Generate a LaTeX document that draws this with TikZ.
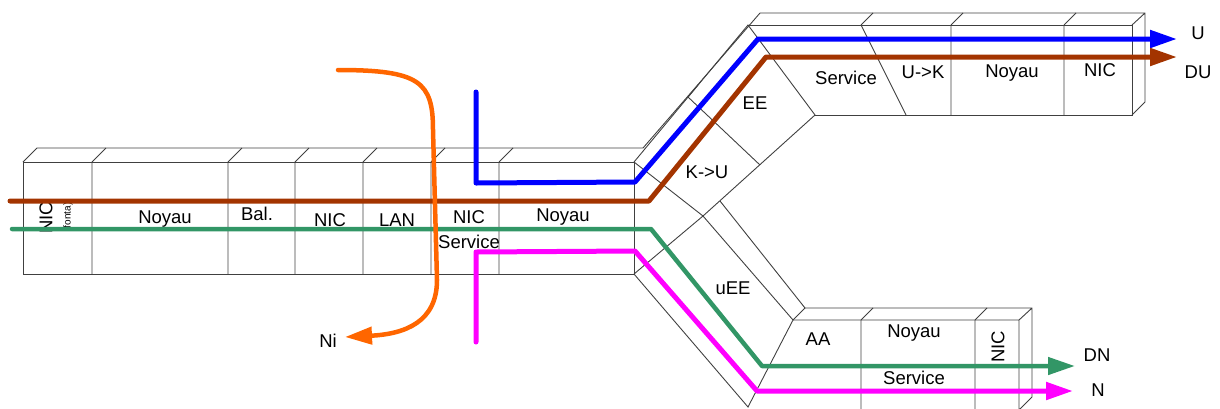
\documentclass[tikz,border=0pt]{standalone}
\usepackage{fontspec}
\setmainfont{Liberation Sans}
\usetikzlibrary{arrows.meta}
\definecolor{duColor}{RGB}{163,52,0}
\definecolor{dnColor}{RGB}{50,150,102}
\definecolor{niColor}{RGB}{255,102,0}
\definecolor{nColor}{RGB}{255,0,255}

\begin{document}
\begin{tikzpicture}[x=1pt,y=-1pt,%
  box/.style={draw=black!75,line width=0.9pt},%
  lbl/.style={font=\fontsize{18.5}{20}\selectfont,inner sep=0pt},%
  small/.style={font=\fontsize{10}{11}\selectfont,inner sep=0pt},%
  flow/.style={line width=5pt,line cap=round,line join=round,-{Triangle[length=27pt,width=17pt]}},%
]%
\useasboundingbox (0,0) rectangle (1220,408);%
% left block
\draw[box] (23,162) rectangle (634,274);%
\draw[box] (23,162) -- (37,148) -- (643,148);%
\foreach \x in {92,228,295,363,431,499} {%
  \draw[box] (\x,162) -- (\x,274) (\x,162) -- ++(14,-14);%
}%
% junction and upper arm
\draw[box] (634,162) -- (703,216) -- (634,274);%
\draw[box] (634,162) -- (748,25) -- (815,115) -- (703,216);%
\draw[box] (643,148) -- (760,13);%
\draw[box] (688,97) -- (760,165) (688,97) -- (698,85);%
% upper block
\draw[box] (748,25) -- (1132,25) -- (1132,115) -- (815,115);%
\draw[box] (760,13) -- (1145,13) -- (1145,102) -- (1132,115) (1132,25) -- (1145,13);%
\draw[box] (861,25) -- (906,115) (861,25) -- ++(12,-12);%
\foreach \x in {951,1064} {%
  \draw[box] (\x,25) -- (\x,115) (\x,25) -- ++(12,-12);%
}%
% lower arm
\draw[box] (634,274) -- (748,407) -- (793,320) -- (703,216);%
\draw[box] (720,201) -- (805,308) -- (793,320);%
% lower block
\draw[box] (793,320) -- (1019,320) -- (1019,412) (805,308) -- (1032,308) -- (1032,397) -- (1019,410) (1019,320) -- (1032,308);%
\foreach \x in {861,975} {%
  \draw[box] (\x,320) -- (\x,412) (\x,320) -- ++(12,-12);%
}%
% labels
\node[lbl,rotate=90] (nicA) at (46,218) {NIC};%
\node[small,rotate=90] (fonta) at (68,217) {(fonta)};%
\node[lbl] (noyauA) at (165,219) {Noyau};%
\node[lbl] (bal) at (257,214) {Bal.};%
\node[lbl] (nicB) at (330,220) {NIC};%
\node[lbl] (lan) at (397,220) {LAN};%
\node[lbl] (nicC) at (469,217) {NIC};%
\node[lbl] (servA) at (469,242) {Service};%
\node[lbl] (noyauB) at (563,217) {Noyau};%
\node[lbl] (ku) at (707,172) {K->U};%
\node[lbl] (ee) at (755,103) {EE};%
\node[lbl] (servB) at (846,78) {Service};%
\node[lbl] (uk) at (923,72) {U->K};%
\node[lbl] (noyauC) at (1012,73) {Noyau};%
\node[lbl] (nicD) at (1100,70) {NIC};%
\node[lbl] (uee) at (733,288) {uEE};%
\node[lbl] (aa) at (818,339) {AA};%
\node[lbl] (noyauD) at (914,333) {Noyau};%
\node[lbl] (servC) at (914,378) {Service};%
\node[lbl,rotate=90] (nicE) at (998,347) {NIC};%
\node[lbl] (U) at (1198,33) {U};%
\node[lbl] (DU) at (1198,72) {DU};%
\node[lbl] (DN) at (1097,355) {DN};%
\node[lbl] (N) at (1098,390) {N};%
\node[lbl] (Ni) at (328,341) {Ni};%
% flows
\coordinate (uStart) at (476,92);%
\coordinate (uEnd) at (1177,39);%
\coordinate (duStart) at (10,201);%
\coordinate (duEnd) at (1177,57);%
\coordinate (dnStart) at (12,229);%
\coordinate (dnEnd) at (1075,366);%
\coordinate (nStart) at (476,342);%
\coordinate (nEnd) at (1073,391);%
\coordinate (niStart) at (338,70);%
\coordinate (niEnd) at (345,337);%
\draw[flow,blue] (uStart) -- (476,183) -- (635,182) -- (758,39) -- (uEnd);%
\draw[flow,duColor] (duStart) -- (649,201) -- (766,57) -- (duEnd);%
\draw[flow,dnColor,line width=4.5pt] (dnStart) -- (651,229) -- (762,366) -- (dnEnd);%
\draw[flow,nColor] (nStart) -- (476,252) -- (635,251) -- (757,391) -- (nEnd);%
\draw[flow,niColor,line width=4.5pt] (niStart) .. controls (420,70) and (433,82) .. (433,130) -- (437,280) .. controls (437,322) and (405,334) .. (niEnd);%
\end{tikzpicture}
\end{document}
